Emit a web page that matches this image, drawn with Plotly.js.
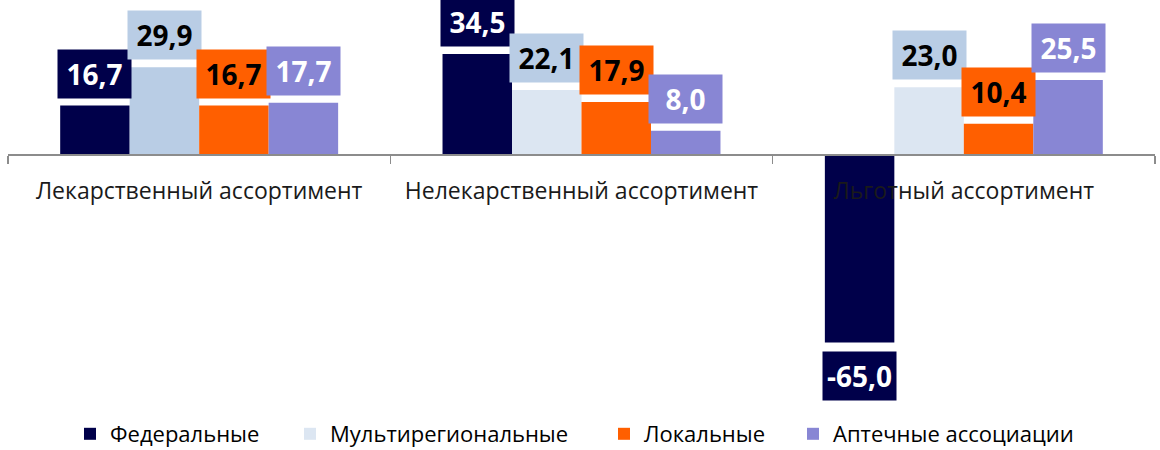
<!DOCTYPE html>
<html>
<head>
<meta charset="utf-8">
<script src="https://cdn.plot.ly/plotly-3.0.1.min.js"></script>
<style>
  html, body { margin: 0; padding: 0; background: #ffffff; }
  #chart { width: 1160px; height: 450px; }
</style>
</head>
<body>
<div id="chart"></div>
<script>
// ---- data ----
const categories = ['Лекарственный ассортимент', 'Нелекарственный ассортимент', 'Льготный ассортимент'];
const seriesNames = ['Федеральные', 'Мультирегиональные', 'Локальные', 'Аптечные ассоциации'];
const federal = [16.7, 34.5, -65.0];
const multiregional = [29.9, 22.1, 23.0];
const local = [16.7, 17.9, 10.4];
const pharmacyAssoc = [17.7, 8.0, 25.5];

// ---- styles ----
const seriesValues = [federal, multiregional, local, pharmacyAssoc];
const barColors = [
  ['#00004a', '#00004a', '#00004a'],
  ['#b9cde5', '#dce6f2', '#dce6f2'],
  ['#ff5f00', '#ff5f00', '#ff5f00'],
  ['#8886d4', '#8886d4', '#8886d4']
];
const legendColors = ['#00004a', '#dce6f2', '#ff5f00', '#8886d4'];
const boxColors = ['#00004a', '#b9cde5', '#ff5f00', '#8886d4'];
const textColors = ['#ffffff', '#000000', '#000000', '#ffffff'];
const legendLeftPx = [70, 290, 604, 793];   // left edge of each legend entry (page px)

const groupWidth = 0.727;
const barW = groupWidth / seriesNames.length;
const pxPerUnit = 2.9;
const plotL = 8, plotR = 5, plotH = 400;
const plotW = 1160 - plotL - plotR;
const zeroPx = 154;
const yMax = zeroPx / pxPerUnit;
const yMin = -(plotH - zeroPx) / pxPerUnit;

const fmt = v => v.toFixed(1).replace('.', ',');

const traces = [];
const annotations = [];
const legends = {};
seriesNames.forEach((name, k) => {
  const off = -groupWidth / 2 + k * barW;
  const legId = k === 0 ? 'legend' : 'legend' + (k + 1);
  traces.push({
    type: 'bar',
    name: name,
    x: categories,
    y: seriesValues[k],
    width: barW,
    offset: off,
    marker: { color: barColors[k], line: { width: 0 } },
    showlegend: false,
    hoverinfo: 'none'
  });
  // legend proxy (empty bar)
  traces.push({
    type: 'bar',
    name: name,
    x: [categories[0]],
    y: [null],
    width: barW,
    offset: off,
    marker: { color: legendColors[k] },
    showlegend: true,
    legend: legId,
    hoverinfo: 'none'
  });
  legends[legId] = {
    orientation: 'h',
    x: (legendLeftPx[k] - plotL) / plotW, xanchor: 'left',
    y: -(434 - plotH) / plotH, yanchor: 'middle',
    font: { family: 'Open Sans, sans-serif', size: 22, color: '#000000' },
    itemwidth: 30,
    bgcolor: 'rgba(0,0,0,0)'
  };
  seriesValues[k].forEach((v, i) => {
    annotations.push({
      xref: 'x', yref: 'y',
      x: i + off + barW / 2,
      y: v,
      text: '<b>' + fmt(v) + '</b>',
      showarrow: false,
      xanchor: 'center',
      yanchor: v >= 0 ? 'bottom' : 'top',
      yshift: v >= 0 ? 7 : -8,
      width: 73,
      height: 48,
      borderpad: 0,
      bgcolor: boxColors[k],
      font: { family: 'Open Sans, sans-serif', size: 28, color: textColors[k] }
    });
  });
});

const layout = Object.assign({
  width: 1160,
  height: 450,
  margin: { l: plotL, r: plotR, t: 0, b: 450 - plotH, autoexpand: false },
  paper_bgcolor: '#ffffff',
  plot_bgcolor: '#ffffff',
  barmode: 'group',
  showlegend: true,
  xaxis: {
    type: 'category',
    range: [-0.5, categories.length - 0.5],
    anchor: 'free',
    position: (0 - yMin) / (yMax - yMin),
    showline: true,
    linecolor: '#8c8c8c',
    linewidth: 1.5,
    ticks: 'outside',
    tickson: 'boundaries',
    ticklen: 8,
    tickwidth: 1.5,
    tickcolor: '#8c8c8c',
    ticklabelstandoff: 16,
    tickfont: { family: 'Open Sans, sans-serif', size: 23, color: '#1a1a1a' },
    showgrid: false,
    zeroline: false,
    fixedrange: true
  },
  yaxis: {
    range: [yMin, yMax],
    visible: false,
    showgrid: false,
    zeroline: false,
    fixedrange: true
  },
  annotations: annotations
}, legends);

Plotly.newPlot('chart', traces, layout, { displayModeBar: false, staticPlot: true });
</script>
</body>
</html>
